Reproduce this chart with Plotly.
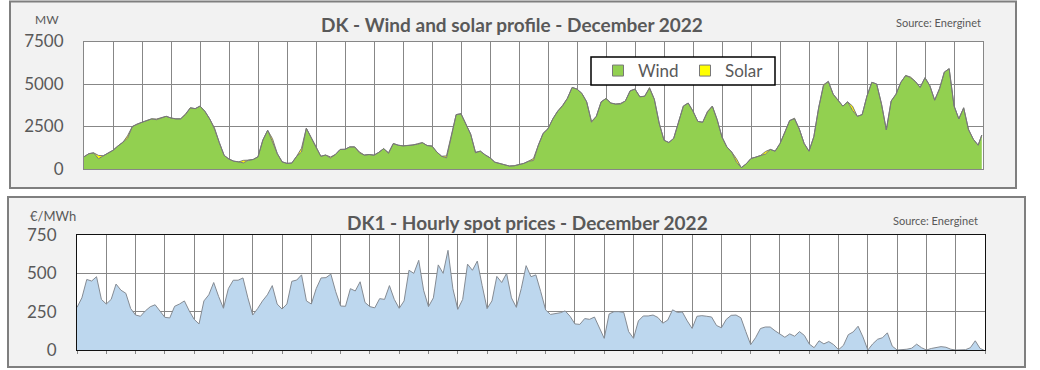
import plotly.graph_objects as go

# time axis: hour of December 2022 (sampled every 4 hours, plus the last hour)
hours = list(range(0, 744, 4)) + [743]

# Wind production (MW), 6 readings per day
wind = [
    720, 900, 950, 600, 780, 950,
    1100, 1350, 1550, 1800, 2500, 2650,
    2750, 2850, 2950, 2900, 3000, 3100,
    3000, 2950, 2950, 3200, 3600, 3550,
    3700, 3400, 2950, 2350, 1550, 800,
    580, 460, 420, 360, 520, 560,
    720, 1700, 2280, 1600, 900, 420,
    330, 350, 750, 1000, 2400, 1850,
    1300, 750, 820, 650, 850, 1150,
    1160, 1300, 1300, 950, 820, 850,
    815, 980, 1200, 920, 1500, 1400,
    1360, 1400, 1400, 1450, 1550, 1380,
    1350, 1000, 750, 650, 1900, 3200,
    3250, 2650, 2050, 950, 1050, 830,
    660, 400, 310, 220, 175, 190,
    270, 330, 460, 500, 1400, 2100,
    2370, 2950, 3400, 3700, 4150, 4800,
    4700, 4450, 3950, 2750, 3100, 3950,
    4150, 3880, 3820, 3820, 4000, 4600,
    4700, 4250, 4280, 4750, 4100, 2700,
    1690, 1560, 1800, 2700, 3700, 3880,
    3400, 2800, 2750, 3350, 3700, 2900,
    1880, 1300, 1000, 400, 80, 300,
    620, 700, 800, 880, 1150, 1050,
    1500, 2150, 2850, 2950, 2350, 1500,
    1050, 1900, 3600, 4900, 5150, 4400,
    4020, 3700, 3950, 3450, 3100, 3200,
    4300, 5100, 5000, 3800, 2300, 4000,
    4400, 5100, 5500, 5370, 5150, 4800,
    5370, 4900, 4050, 4700, 5700, 5900,
    3720, 2950, 3600, 2300, 1750, 1400,
    2000,
]

# Solar production (MW), 6 readings per day
solar = [
    0, 0, 0, 200, 0, 0,
    0, 0, 0, 150, 0, 0,
    0, 0, 0, 40, 0, 0,
    0, 0, 0, 40, 0, 0,
    0, 0, 0, 60, 0, 0,
    0, 0, 0, 150, 0, 0,
    0, 0, 0, 180, 0, 0,
    0, 0, 0, 220, 0, 0,
    0, 0, 0, 60, 0, 0,
    0, 0, 0, 50, 0, 0,
    0, 0, 0, 40, 0, 0,
    0, 0, 0, 40, 0, 0,
    0, 0, 0, 120, 0, 0,
    0, 0, 0, 40, 0, 0,
    0, 0, 0, 30, 0, 0,
    0, 0, 0, 120, 0, 0,
    0, 0, 0, 40, 0, 0,
    0, 0, 0, 50, 0, 0,
    0, 0, 0, 40, 0, 0,
    0, 0, 0, 40, 0, 0,
    0, 0, 0, 60, 0, 0,
    0, 0, 0, 40, 0, 0,
    0, 0, 0, 200, 0, 0,
    0, 0, 0, 150, 0, 0,
    0, 0, 0, 40, 0, 0,
    0, 0, 0, 60, 0, 0,
    0, 0, 0, 250, 0, 0,
    0, 0, 0, 40, 0, 0,
    0, 0, 0, 40, 0, 0,
    0, 0, 0, 40, 0, 0,
    0, 0, 0, 40, 0, 0,
    0,
]

# DK1 spot price (EUR/MWh), 6 readings per day
price = [
    278, 340, 460, 450, 478, 330,
    300, 330, 430, 390, 370, 270,
    228, 220, 255, 282, 295, 255,
    213, 209, 285, 300, 320, 255,
    200, 170, 320, 360, 440, 350,
    272, 400, 455, 455, 470, 340,
    228, 270, 320, 360, 420, 300,
    267, 300, 448, 456, 490, 320,
    300, 400, 470, 472, 495, 380,
    287, 285, 400, 385, 445, 310,
    283, 275, 335, 330, 420, 330,
    272, 320, 520, 500, 585, 390,
    283, 340, 555, 500, 650, 400,
    265, 330, 560, 520, 580, 420,
    270, 320, 480, 440, 500, 340,
    278, 400, 550, 478, 490, 380,
    261, 232, 238, 243, 255, 220,
    170, 167, 205, 200, 215, 140,
    76, 235, 250, 250, 245, 120,
    76, 190, 222, 222, 228, 212,
    175, 195, 262, 245, 248, 190,
    141, 220, 224, 220, 215, 160,
    145, 200, 226, 228, 210, 120,
    35, 80, 140, 150, 150, 125,
    105, 83, 105, 90, 120, 95,
    39, 15, 60, 40, 55, 35,
    2, 30, 100, 118, 155, 85,
    0, 40, 70, 80, 112, 25,
    0, 2, 5, 12, 38, 15,
    0, 10, 18, 22, 18, 5,
    0, 0, 2, 15, 60, 10,
    0,
]

day_ticks = list(range(0, 745, 24))
mw_ticks = [0, 2500, 5000, 7500]
eur_ticks = [0, 250, 500, 750]

W, H = 1040, 370
FONT = "Lato, 'Open Sans', sans-serif"
TXT = "#595959"
GRID = "#878787"
GREEN = "#92d050"
YELLOW = "#ffff00"
OUTLINE = "#787878"


def fx(x):
    return x / W


def fy(y):
    return 1 - y / H


fig = go.Figure()
fig.add_trace(go.Scatter(
    x=hours, y=wind, name="Wind", stackgroup="ws", mode="lines",
    line=dict(color=OUTLINE, width=1), fillcolor=GREEN,
    xaxis="x", yaxis="y", hoverinfo="skip", showlegend=False))
fig.add_trace(go.Scatter(
    x=hours, y=solar, name="Solar", stackgroup="ws", mode="lines",
    line=dict(color=OUTLINE, width=1), fillcolor=YELLOW,
    xaxis="x", yaxis="y", hoverinfo="skip", showlegend=False))
fig.add_trace(go.Scatter(
    x=hours, y=price, name="Price", fill="tozeroy", mode="lines",
    line=dict(color="#858b93", width=1), fillcolor="#bdd7ee",
    xaxis="x2", yaxis="y2", showlegend=False, hoverinfo="skip"))
# legend entries (square swatches)
for nm, col in (("Wind", GREEN), ("Solar", YELLOW)):
    fig.add_trace(go.Scatter(
        x=[None], y=[None], name=nm, mode="markers",
        marker=dict(symbol="square", size=11, color=col,
                    line=dict(color=OUTLINE, width=1)),
        xaxis="x", yaxis="y", hoverinfo="skip"))

# panel boxes, white plot areas and legend frame
shapes = [
    dict(type="rect", xref="paper", yref="paper", layer="below",
         x0=fx(10), x1=fx(1016), y0=fy(188), y1=fy(1.5),
         fillcolor="#f2f2f2", line=dict(color="#7f7f7f", width=2)),
    dict(type="rect", xref="paper", yref="paper", layer="below",
         x0=fx(8), x1=fx(1025), y0=fy(367), y1=fy(197),
         fillcolor="#f2f2f2", line=dict(color="#7f7f7f", width=2)),
    dict(type="rect", xref="paper", yref="paper", layer="below",
         x0=fx(84), x1=fx(983), y0=fy(169), y1=fy(41.5),
         fillcolor="white", line=dict(width=0)),
    dict(type="rect", xref="paper", yref="paper", layer="below",
         x0=fx(77), x1=fx(985), y0=fy(350), y1=fy(235),
         fillcolor="white", line=dict(width=0)),
    dict(type="rect", xref="paper", yref="paper", layer="above",
         x0=fx(591), x1=fx(775), y0=fy(85), y1=fy(57),
         fillcolor="white", line=dict(color="black", width=1.5)),
]

annotations = [
    dict(text="<b>DK - Wind and solar profile - December 2022</b>",
         x=fx(512), y=fy(25), xref="paper", yref="paper", showarrow=False,
         font=dict(family=FONT, size=19, color=TXT), xanchor="center", yanchor="middle"),
    dict(text="Source: Energinet", x=fx(983), y=fy(22), xref="paper", yref="paper",
         showarrow=False, font=dict(family=FONT, size=11, color=TXT),
         xanchor="right", yanchor="middle"),
    dict(text="MW", x=fx(47), y=fy(19), xref="paper", yref="paper", showarrow=False,
         font=dict(family=FONT, size=12, color=TXT), xanchor="center", yanchor="middle"),
    dict(text="<b>DK1 - Hourly spot prices - December 2022</b>",
         x=fx(527), y=fy(222), xref="paper", yref="paper", showarrow=False,
         font=dict(family=FONT, size=19, color=TXT), xanchor="center", yanchor="middle"),
    dict(text="Source: Energinet", x=fx(980), y=fy(220), xref="paper", yref="paper",
         showarrow=False, font=dict(family=FONT, size=11, color=TXT),
         xanchor="right", yanchor="middle"),
    dict(text="€/MWh", x=fx(53), y=fy(216), xref="paper", yref="paper", showarrow=False,
         font=dict(family=FONT, size=13, color=TXT), xanchor="center", yanchor="middle"),
]

axis_common = dict(showgrid=True, gridcolor=GRID, gridwidth=1, zeroline=False,
                   showline=True, mirror=True, fixedrange=True, automargin=False)

fig.update_layout(
    template="none",
    width=W, height=H,
    margin=dict(l=0, r=0, t=0, b=0, pad=0, autoexpand=False),
    paper_bgcolor="white", plot_bgcolor="rgba(0,0,0,0)",
    font=dict(family=FONT, color=TXT),
    shapes=shapes, annotations=annotations,
    hovermode=False,
    xaxis=dict(domain=[fx(84), fx(983)], anchor="y", range=[0, 744],
               tickvals=day_ticks, showticklabels=False, ticks="",
               linecolor=GRID, **axis_common),
    yaxis=dict(domain=[fy(169), fy(41.5)], anchor="x", range=[0, 7500],
               tickvals=mw_ticks, ticktext=[str(v) for v in mw_ticks],
               ticks="", tickfont=dict(family=FONT, size=17, color=TXT),
               ticklabelstandoff=16, linecolor=GRID, **axis_common),
    xaxis2=dict(domain=[fx(77), fx(985)], anchor="y2", range=[0, 744],
                tickvals=day_ticks, showticklabels=False, ticks="outside",
                ticklen=3, tickcolor=GRID, linecolor="#111111", **axis_common),
    yaxis2=dict(domain=[fy(350), fy(235)], anchor="x2", range=[0, 750],
                tickvals=eur_ticks, ticktext=[str(v) for v in eur_ticks],
                ticks="", tickfont=dict(family=FONT, size=17, color=TXT),
                ticklabelstandoff=16, linecolor="#111111", **axis_common),
    showlegend=True,
    legend=dict(x=fx(598), y=fy(53), xanchor="left", yanchor="top",
                orientation="h", bgcolor="rgba(0,0,0,0)", borderwidth=0,
                font=dict(family=FONT, size=17, color=TXT),
                itemwidth=30, entrywidth=42, traceorder="normal",
                tracegroupgap=0, itemclick=False, itemdoubleclick=False),
)

fig.write_html(
    "out.html",
    config={"displayModeBar": False, "staticPlot": True},
    post_script="document.body.style.margin='0';document.body.style.overflow='hidden';",
)
